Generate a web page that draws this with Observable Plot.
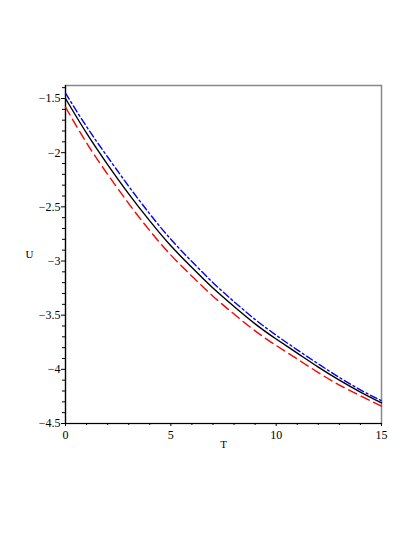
<!DOCTYPE html>
<html>
<head>
<meta charset="utf-8">
<script src="https://cdn.jsdelivr.net/npm/d3@7"></script>
<script src="https://cdn.jsdelivr.net/npm/@observablehq/plot@0.6"></script>
<style>
  html, body { margin: 0; padding: 0; background: #fff; }
  #chart svg { display: block; }
</style>
</head>
<body>
<div id="chart"></div>
<script>
const T = [0,1,2,3,4,5,6,7,8,9,10,11,12,13,14,15];
const uBlack = [-1.50,-1.82,-2.11,-2.38,-2.63,-2.86,-3.06,-3.25,-3.42,-3.58,-3.72,-3.85,-3.98,-4.10,-4.21,-4.31];
const uRed   = [-1.58,-1.91,-2.20,-2.47,-2.72,-2.945,-3.14,-3.325,-3.49,-3.645,-3.78,-3.905,-4.03,-4.145,-4.245,-4.34];
const uBlue  = [-1.45,-1.76,-2.04,-2.31,-2.565,-2.80,-3.005,-3.20,-3.375,-3.54,-3.685,-3.82,-3.95,-4.075,-4.19,-4.29];
const xTicks = [0,5,10,15];
const xMinor = [1,2,3,4,6,7,8,9,11,12,13,14];
const yTicks = [-4.5,-4,-3.5,-3,-2.5,-2,-1.5];
const yMinor = [-4.4,-4.3,-4.2,-4.1,-3.9,-3.8,-3.7,-3.6,-3.4,-3.3,-3.2,-3.1,-2.9,-2.8,-2.7,-2.6,-2.4,-2.3,-2.2,-2.1,-1.9,-1.8,-1.7,-1.6,-1.4];
const xLabel = "T";
const yLabel = "U";
const xDomain = [0, 15];
const yDomain = [-4.5, -1.38];

const rows = (ys) => T.map((t, i) => ({T: t, U: ys[i]}));
const fmt = d => (d < 0 ? "\u2212" : "") + Math.abs(d);

const chart = Plot.plot({
  width: 415,
  height: 537,
  marginLeft: 65,
  marginRight: 34,
  marginTop: 85,
  marginBottom: 114,
  style: {fontFamily: "'Liberation Serif', 'DejaVu Serif', serif", fontSize: "12px", color: "#000", background: "#fff"},
  x: {domain: xDomain},
  y: {domain: yDomain},
  marks: [
    Plot.frame({stroke: "#888", strokeWidth: 1.5}),
    Plot.ruleY([yDomain[0]], {stroke: "#000", strokeWidth: 1.2}),
    Plot.ruleX([xDomain[0]], {stroke: "#000", strokeWidth: 1.2}),
    Plot.axisX({ticks: xTicks, tickSize: 3, tickFormat: d => String(d), tickPadding: 4, label: null, fontSize: 12}),
    Plot.axisX({ticks: xMinor, tickSize: 2, tickFormat: () => "", label: null}),
    Plot.axisY({ticks: yTicks, tickSize: 4, tickFormat: fmt, tickPadding: 1, label: null, fontSize: 12}),
    Plot.axisY({ticks: yMinor, tickSize: 3, tickFormat: () => "", label: null}),
    Plot.text([xLabel], {frameAnchor: "bottom", dy: 24, fontSize: 11}),
    Plot.text([yLabel], {frameAnchor: "left", dx: -40, fontSize: 11}),
    Plot.line(rows(uRed), {x: "T", y: "U", stroke: "#ff0000", strokeWidth: 1.4, strokeDasharray: "9,5", curve: "natural"}),
    Plot.line(rows(uBlue), {x: "T", y: "U", stroke: "#0000ff", strokeWidth: 1.4, strokeDasharray: "7,3,2,3", curve: "natural"}),
    Plot.line(rows(uBlack), {x: "T", y: "U", stroke: "#000", strokeWidth: 1.4, curve: "natural"})
  ]
});
document.getElementById("chart").appendChild(chart);
</script>
</body>
</html>
